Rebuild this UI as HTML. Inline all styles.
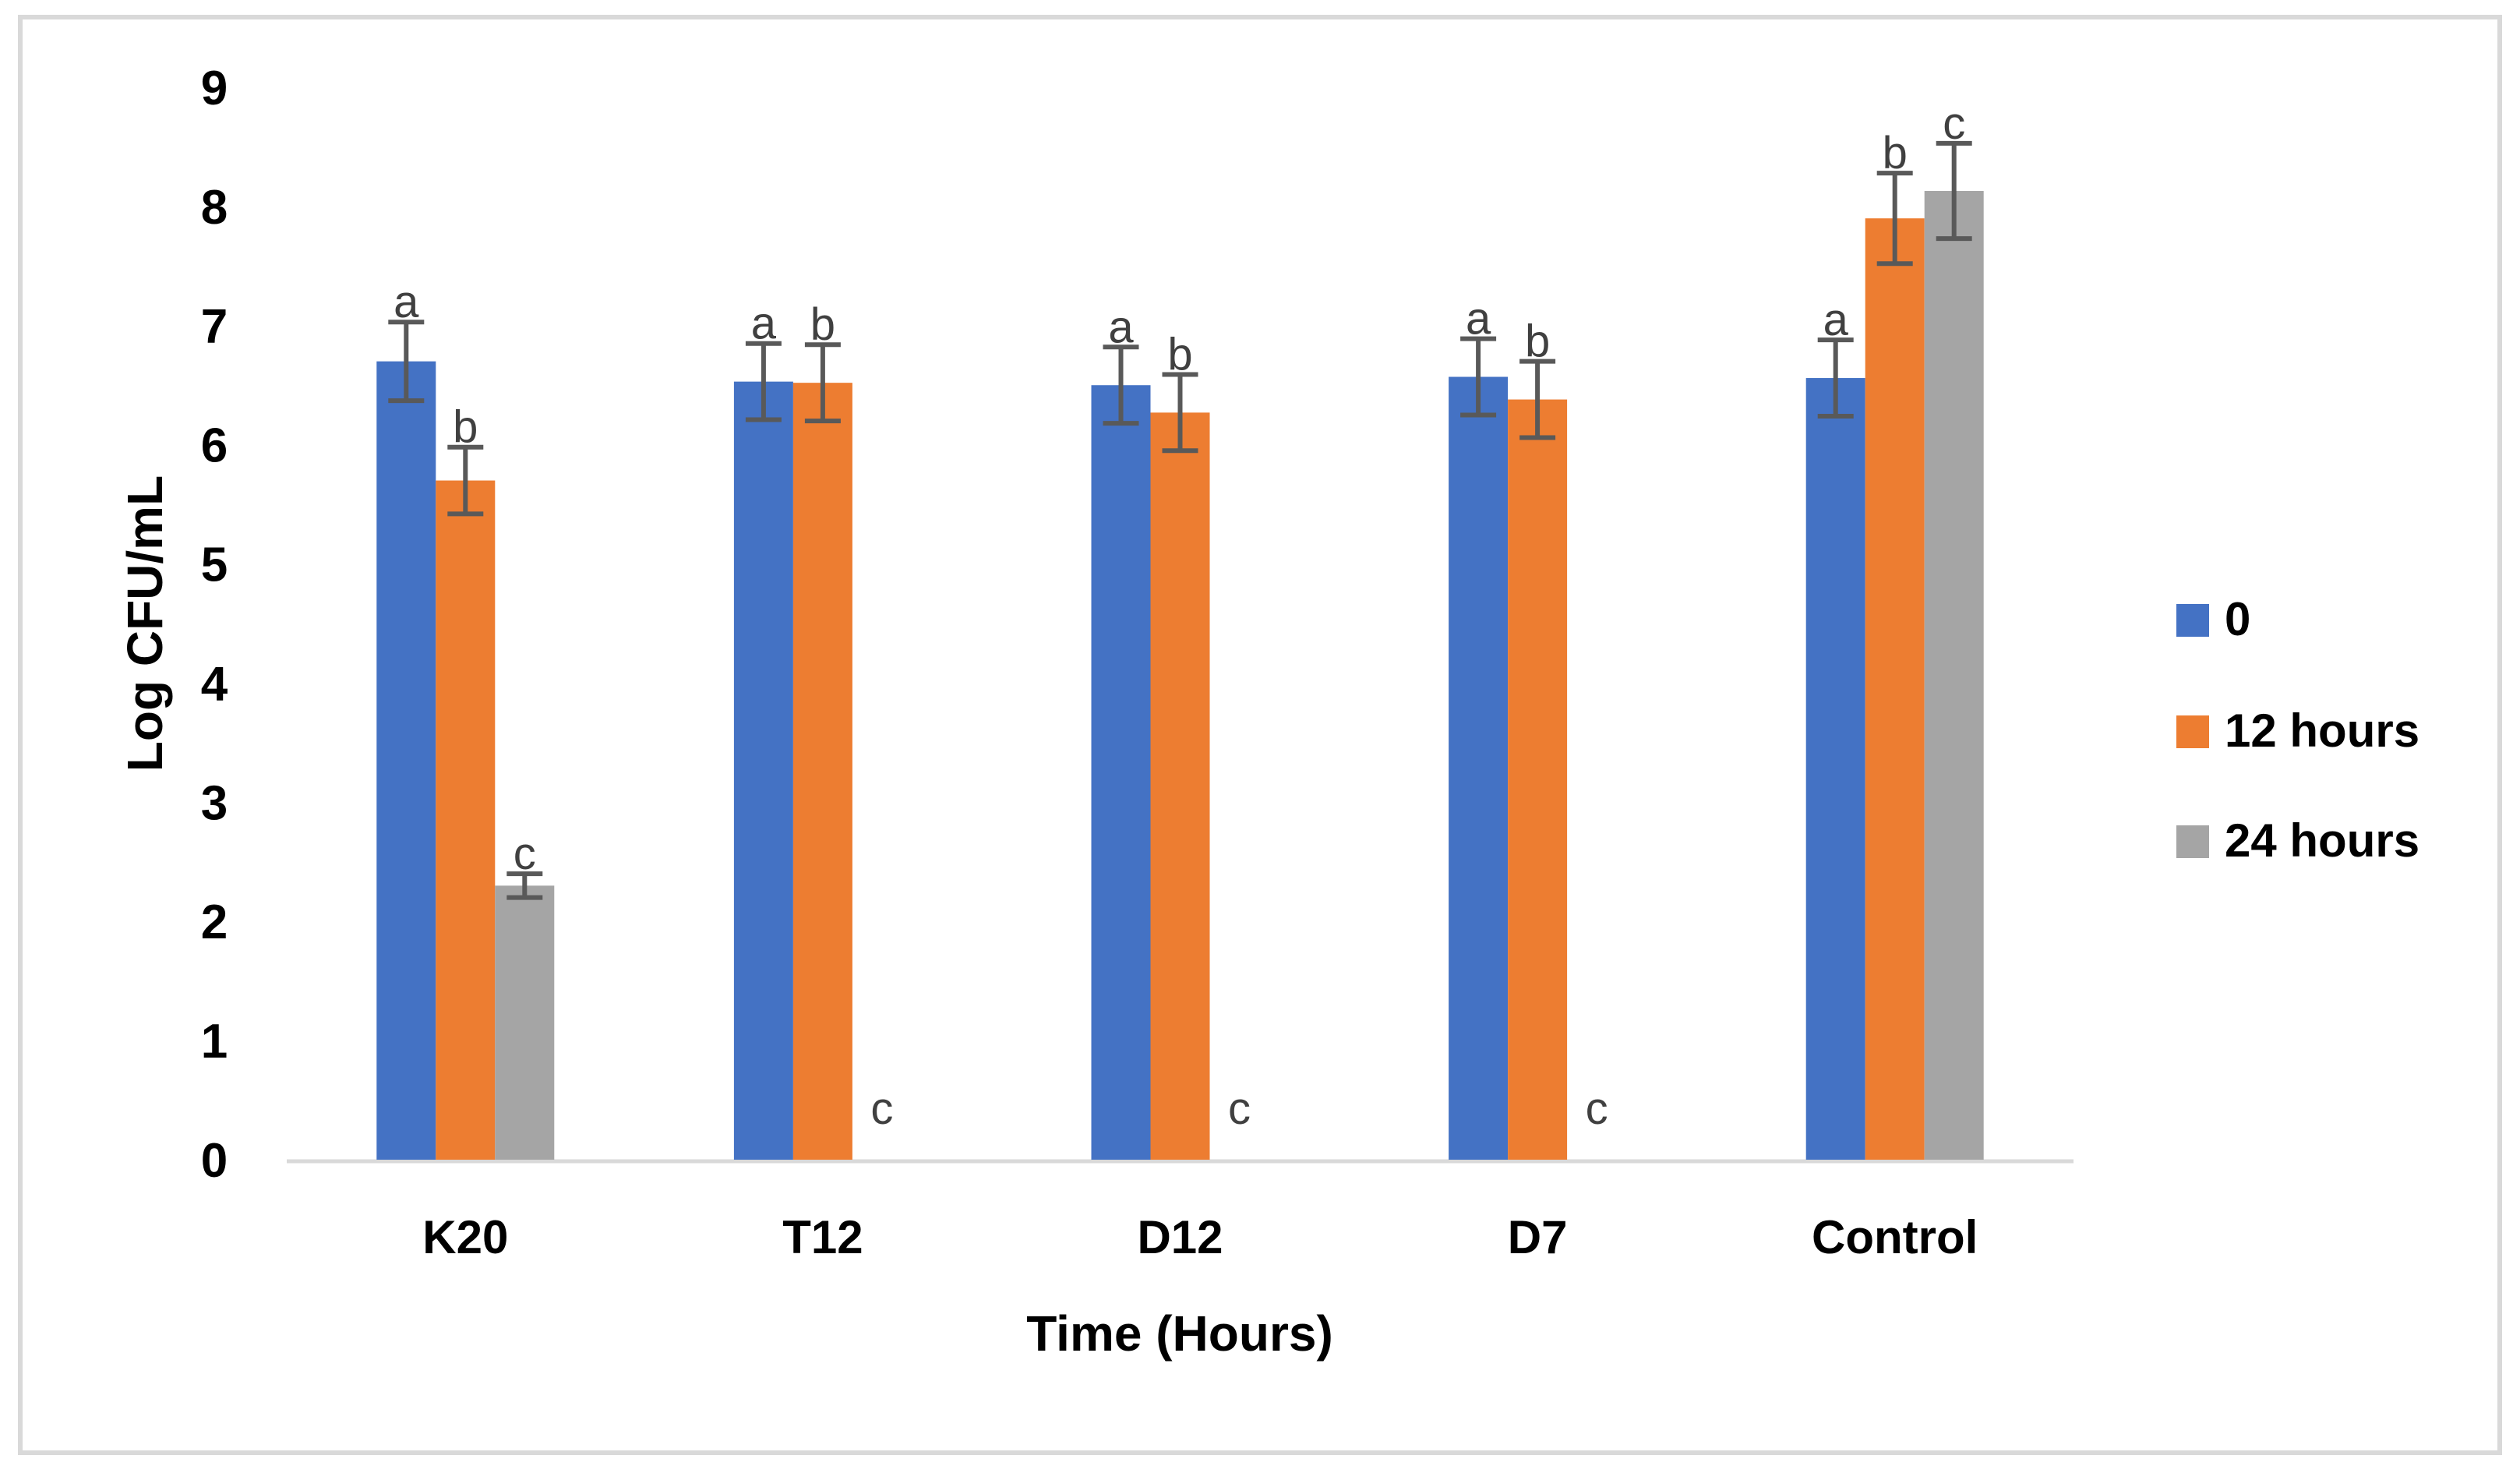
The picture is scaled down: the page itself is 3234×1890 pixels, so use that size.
<!DOCTYPE html>
<html><head><meta charset="utf-8"><style>
html,body{margin:0;padding:0;background:#fff;}
svg{display:block;font-family:"Liberation Sans",sans-serif;}
</style></head><body>
<svg id="chart" width="3234" height="1890" viewBox="0 0 3234 1890" xmlns="http://www.w3.org/2000/svg">
<rect x="26" y="22" width="3182" height="1842" fill="#fff" stroke="#d9d9d9" stroke-width="6"/>
<g id="plot"></g>
<text transform="translate(208,800) rotate(-90)" text-anchor="middle" font-size="64" font-weight="bold" fill="#000">Log CFU/mL</text>
<text x="1514" y="1733" text-anchor="middle" font-size="64" font-weight="bold" fill="#000">Time (Hours)</text>
<g>
<rect x="2793" y="775" width="42" height="42" fill="#4472c4"/>
<text x="2855" y="815" font-size="60" font-weight="bold">0</text>
<rect x="2793" y="918" width="42" height="42" fill="#ed7d31"/>
<text x="2855" y="958" font-size="60" font-weight="bold">12 hours</text>
<rect x="2793" y="1059" width="42" height="42" fill="#a5a5a5"/>
<text x="2855" y="1099" font-size="60" font-weight="bold">24 hours</text>
</g>
</svg>
<script>
const categories = ["K20","T12","D12","D7","Control"];
const seriesNames = ["0","12 hours","24 hours"];
const s0 = [6.7,6.53,6.5,6.57,6.56];
const s12 = [5.7,6.52,6.27,6.38,7.9];
const s24 = [2.3,0,0,0,8.13];
const e0 = [0.33,0.32,0.32,0.32,0.32];
const e12 = [0.28,0.32,0.32,0.32,0.38];
const e24 = [0.1,0,0,0,0.4];
const sigLetters = ["a","b","c"];
const yTicks = [0,1,2,3,4,5,6,7,8,9];

const NS="http://www.w3.org/2000/svg";
const plot=document.getElementById('plot');
const y0=1488, yTop=112, yMax=9;
const xL=368, xR=2661;
function y(v){return y0-(v/yMax)*(y0-yTop);}
const step=(xR-xL)/categories.length;
function xc(i){return xL+step*(i+0.5);}
const bw=76;
const colors=["#4472c4","#ed7d31","#a5a5a5"];
const series=[s0,s12,s24], errs=[e0,e12,e24];
function mk(tag,attrs){const el=document.createElementNS(NS,tag);for(const k in attrs)el.setAttribute(k,attrs[k]);plot.appendChild(el);return el;}

yTicks.forEach(t=>{
  const el=mk('text',{x:275,y:y(t)+22,'text-anchor':'middle','font-size':62,'font-weight':'bold',fill:'#000'});
  el.textContent=t;
  
  
});
const ax=mk('line',{x1:xL,x2:xR,y1:y0+2,y2:y0+2,stroke:'#d9d9d9','stroke-width':5});



categories.forEach((c,i)=>{
  const lab=mk('text',{x:xc(i),y:1608,'text-anchor':'middle','font-size':60,'font-weight':'bold',fill:'#000'});
  lab.textContent=c;
  
  
  series.forEach((s,j)=>{
    const bx=xc(i)+(j-1.5)*bw;
    const v=s[i];
    const cx=bx+bw/2;
    if(v>0){
      const r=mk('rect',{x:bx,y:y(v),width:bw,height:y0-y(v),fill:colors[j]});
      
      
      const e=errs[j][i];
      if(e>0){
        const g=mk('path',{d:`M${cx},${y(v+e)}V${y(v-e)}M${cx-23},${y(v+e)}H${cx+23}M${cx-23},${y(v-e)}H${cx+23}`,stroke:'#595959','stroke-width':6,fill:'none'});
        
        
      }
      const t=mk('text',{x:cx,y:y(v+e)-6,'text-anchor':'middle','font-size':58,fill:'#404040'});
      t.textContent=sigLetters[j];
      
      
    } else {
      const t=mk('text',{x:cx,y:y(0.3),'text-anchor':'middle','font-size':58,fill:'#404040'});
      t.textContent=sigLetters[j];
      
      
    }
  });
});
</script>
</body></html>
